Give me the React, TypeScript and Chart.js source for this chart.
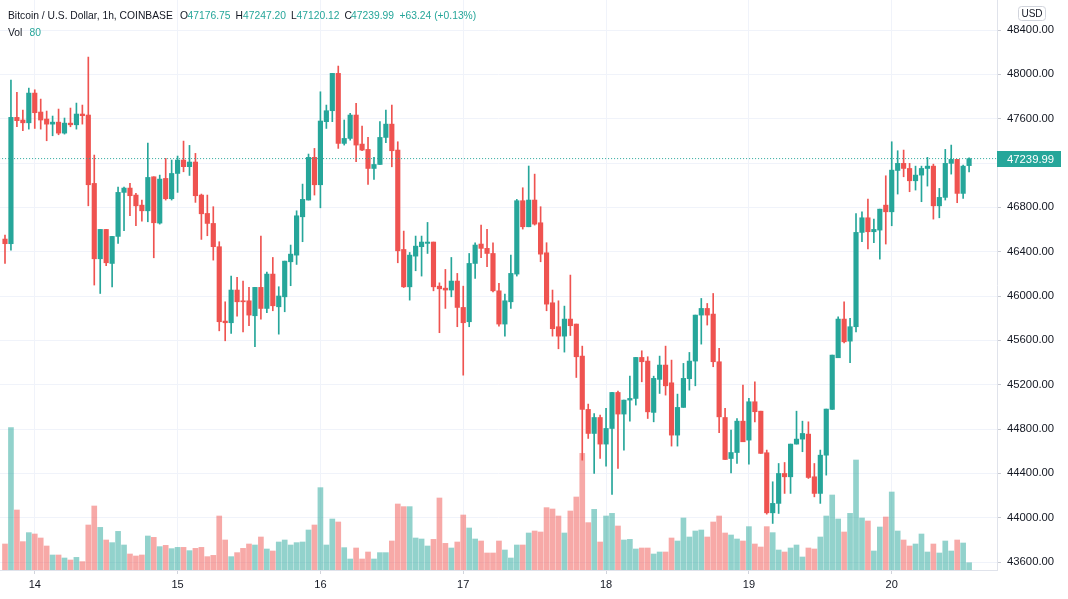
import React, { useEffect, useRef } from 'react';
import { Chart, registerables } from 'chart.js';

Chart.register(...registerables);

// ---- Data (1h candles, BTC/USD Coinbase) ----
const opens = [46514,46472,47612,47588,47563,47831,47660,47597,47551,47569,47470,47560,47545,47642,47633,47016,46336,46601,46294,46538,46935,46974,46911,46820,46769,47076,46658,
47061,46878,47106,47227,47167,47209,46911,46745,46655,46445,45774,45759,46054,45957,45957,45822,46078,45888,46198,45903,45993,46309,46369,46715,46866,47251,47004,
47573,47672,48009,47377,47422,47633,47371,47323,47151,47187,47431,47551,47317,46420,46083,46360,46445,46475,46487,46089,46071,46054,46135,45897,45768,46294,46469,
46430,46384,46047,45747,45948,46198,46860,46625,46866,46661,46390,45939,45723,45638,45792,45747,45458,44977,44760,44904,44664,44805,45130,44935,45061,45076,45446,
45413,44950,45248,45377,45217,44745,44995,45254,45413,45828,45888,45837,45407,44904,44534,44588,44871,44700,45046,44961,44586,44044,44129,44399,44369,44664,44709,
44754,44369,44219,44564,44977,45443,45792,45593,45723,46574,46706,46580,46595,46820,46760,47133,47197,47151,47040,47091,47151,47172,46814,46890,47197,47233,46926,47176.75];
const highs = [46550,47948,47837,47678,47876,47861,47777,47669,47624,47687,47606,47696,47741,47723,48156,47272,46601,46601,46538,46983,46983,47016,46926,46866,47380,47076,47091,
47242,47227,47263,47398,47359,47287,46920,46911,46806,46490,45948,46180,46168,46135,46078,46078,46541,46216,46348,46084,46315,46460,46769,47010,47281,47332,47843,
47723,48009,48075,47588,47648,47738,47533,47431,47251,47573,47678,47723,47392,46586,46393,46541,46541,46664,46487,46119,46240,46348,46204,46089,46384,46481,46640,
46601,46481,46114,46017,46369,46872,46977,47173,47100,46806,46481,46054,45957,45909,46189,45747,45548,45025,44940,44926,44986,45130,45142,45061,45277,45446,45506,
45452,45277,45458,45548,45422,45115,45392,45491,45828,45978,45933,46023,45527,44986,44790,44895,45196,45076,45226,44961,44610,44324,44489,44498,44664,44961,44871,
44865,44489,44610,44980,45467,45813,45948,45798,46745,46760,46875,46694,46784,47085,47392,47311,47317,47197,47172,47172,47251,47190,46971,47323,47362,47233,47181,47247.20];
const lows = [46294,46414,47527,47491,47506,47512,47506,47401,47446,47455,47461,47527,47506,47551,46814,46099,46023,46273,46083,46475,46589,46724,46634,46676,46670,46345,46649,
46866,46866,46935,47121,47088,46845,46511,46544,46324,45686,45596,45662,45819,45677,45732,45542,45792,45849,45867,45656,45858,46093,46285,46490,46866,46911,46796,
47512,47573,47332,47362,47407,47212,47311,47007,47052,47187,47383,47166,46300,46077,45963,46228,46180,46384,46047,45669,45888,45993,45723,45286,45723,46159,46345,
46264,46038,45729,45638,45888,46180,46604,46625,46640,46309,45867,45638,45524,45494,45644,45265,44519,44715,44399,44534,44465,44209,44444,44610,44871,45016,45226,
44895,44865,45121,45106,44646,44646,44995,45151,45190,45566,45738,45362,44766,44525,44405,44489,44685,44483,44865,44580,44032,43948,44038,44219,44219,44664,44595,
44354,44188,44129,44384,44977,45443,45578,45398,45677,46490,46424,46481,46333,46469,46634,46920,47076,46941,46956,46851,46992,46694,46706,46866,47100,46842,46881,47120.12];
const closes = [46472,47612,47582,47563,47831,47654,47588,47551,47569,47470,47560,47545,47642,47627,47004,46336,46601,46300,46538,46935,46974,46905,46814,46769,47070,46661,47055,
46878,47106,47227,47167,47209,46905,46742,46655,46445,45768,45759,46054,45948,45948,45828,46078,45888,46198,45912,46000,46315,46378,46724,46872,47251,47004,47579,
47672,48009,47377,47422,47633,47362,47317,47151,47187,47431,47551,47311,46408,46083,46369,46450,46487,46487,46083,46065,46054,46135,45897,45759,46294,46460,46430,
46384,46047,45747,45957,46204,46860,46625,46866,46649,46378,45927,45705,45638,45792,45732,45452,44977,44760,44904,44664,44805,45130,44935,45061,45076,45446,45407,
44955,45257,45377,45190,44745,44995,45257,45413,45828,45888,45828,45407,44910,44525,44588,44871,44685,45046,44956,44580,44044,44129,44399,44369,44664,44709,44760,
44363,44219,44564,44980,45467,45792,45587,45723,46574,46706,46580,46601,46784,46760,47136,47197,47151,47040,47091,47151,47172,46814,46890,47197,47233,46926,47172,47239.99];
const volumes = [286,1566,660,312,411,396,352,264,165,165,132,110,139,92,495,704,469,330,301,425,275,176,154,165,374,359,257,
271,235,249,249,213,238,249,147,161,594,330,147,191,238,286,275,363,231,209,308,330,275,301,308,440,495,906,
275,561,528,246,121,242,121,198,121,191,191,319,726,697,697,352,341,264,337,792,293,242,308,605,462,341,319,
187,187,319,220,132,275,275,407,429,418,686,671,594,407,649,803,1283,521,667,308,594,623,484,330,337,231,242,
242,176,198,198,352,319,572,363,429,440,363,528,594,407,385,341,319,477,286,253,477,411,220,198,242,275,143,
242,231,363,594,825,561,418,623,1210,572,539,209,473,583,858,429,330,264,286,396,198,286,187,319,209,330,297,80];

const dayLabels = ['14', '15', '16', '17', '18', '19', '20'];
const dayStartIndex = [5, 29, 53, 77, 101, 125, 149];
const priceTicks = [43600, 44000, 44400, 44800, 45200, 45600, 46000, 46400, 46800, 47200, 47600, 48000, 48400];
const lastPrice = 47239.99;

const UP = '#26a69a';
const DOWN = '#ef5350';
const UP_VOL = 'rgba(38,166,154,0.5)';
const DOWN_VOL = 'rgba(239,83,80,0.5)';
const FONT = '"Liberation Sans", Arial, sans-serif';

const overlayPlugin = {
  id: 'overlay',
  afterDraw(chart: any) {
    const ctx = chart.ctx;
    const area = chart.chartArea;
    const y = chart.scales.y.getPixelForValue(lastPrice);
    ctx.save();
    ctx.fillStyle = UP;
    ctx.fillRect(area.right, Math.round(y) - 8, 64, 16);
    ctx.fillStyle = '#ffffff';
    ctx.font = '11.3px ' + FONT;
    ctx.textBaseline = 'middle';
    ctx.textAlign = 'left';
    ctx.fillText(lastPrice.toFixed(2), area.right + 10, Math.round(y) + 0.5);
    // USD box
    const bx = 1018.5, by = 6.5, bw = 27, bh = 14, r = 3;
    ctx.beginPath();
    ctx.moveTo(bx + r, by);
    ctx.lineTo(bx + bw - r, by);
    ctx.arcTo(bx + bw, by, bx + bw, by + r, r);
    ctx.lineTo(bx + bw, by + bh - r);
    ctx.arcTo(bx + bw, by + bh, bx + bw - r, by + bh, r);
    ctx.lineTo(bx + r, by + bh);
    ctx.arcTo(bx, by + bh, bx, by + bh - r, r);
    ctx.lineTo(bx, by + r);
    ctx.arcTo(bx, by, bx + r, by, r);
    ctx.closePath();
    ctx.fillStyle = '#ffffff';
    ctx.fill();
    ctx.strokeStyle = '#d1d4dc';
    ctx.lineWidth = 1;
    ctx.stroke();
    ctx.fillStyle = '#131722';
    ctx.font = '10px ' + FONT;
    ctx.textAlign = 'center';
    ctx.fillText('USD', bx + bw / 2, by + bh / 2 + 0.5);
    ctx.restore();
  },
};

export default function App() {
  const canvasRef = useRef<HTMLCanvasElement | null>(null);

  useEffect(() => {
    if (!canvasRef.current) return;
    const idx = opens.map((_, i) => i);
    const up = idx.map((i) => closes[i] >= opens[i]);
    const chart = new Chart(canvasRef.current, {
      type: 'bar',
      data: {
        datasets: [
          {
            type: 'line',
            data: [{ x: -2, y: lastPrice }, { x: 170, y: lastPrice }],
            borderColor: UP,
            borderWidth: 1,
            borderDash: [1, 2],
            pointRadius: 0,
            yAxisID: 'y',
            order: 0,
          } as any,
          {
            data: idx.map((i) => ({ x: i, y: [opens[i], closes[i]] })),
            backgroundColor: idx.map((i) => (up[i] ? UP : DOWN)),
            barThickness: 4.5,
            minBarLength: 1,
            grouped: false,
            yAxisID: 'y',
            order: 1,
          } as any,
          {
            data: idx.map((i) => ({ x: i, y: [lows[i], highs[i]] })),
            backgroundColor: idx.map((i) => (up[i] ? UP : DOWN)),
            barThickness: 1,
            grouped: false,
            yAxisID: 'y',
            order: 2,
          } as any,
          {
            data: idx.map((i) => ({ x: i, y: volumes[i] })),
            backgroundColor: idx.map((i) => (up[i] ? UP_VOL : DOWN_VOL)),
            barThickness: 5,
            grouped: false,
            yAxisID: 'yv',
            order: 3,
          } as any,
        ],
      },
      options: {
        responsive: false,
        animation: false,
        layout: { padding: 0 },
        plugins: { legend: { display: false }, tooltip: { enabled: false } },
        scales: {
          x: {
            type: 'linear',
            min: -0.84,
            max: 166.69,
            offset: false,
            grid: { color: '#f0f3fa', offset: false, tickLength: 4, tickColor: '#d1d4dc' },
            border: { color: '#e0e3eb' },
            ticks: {
              autoSkip: false,
              maxRotation: 0,
              padding: 4,
              color: '#131722',
              font: { family: FONT, size: 11 },
              callback: (v: any) => {
                const k = dayStartIndex.indexOf(Number(v));
                return k >= 0 ? dayLabels[k] : '';
              },
            },
            afterBuildTicks: (s: any) => {
              s.ticks = dayStartIndex.map((v) => ({ value: v }));
            },
            afterFit: (s: any) => {
              s.height = 29;
              s.paddingLeft = 0;
              s.paddingRight = 0;
            },
          } as any,
          y: {
            type: 'linear',
            position: 'right',
            min: 43528,
            max: 48671,
            grid: { color: '#f0f3fa', tickLength: 4, tickColor: '#c8cbd3' },
            border: { color: '#e0e3eb' },
            ticks: {
              padding: 6,
              color: '#131722',
              font: { family: FONT, size: 11.3 },
              callback: (v: any) => Number(v).toFixed(2),
            },
            afterBuildTicks: (s: any) => {
              s.ticks = priceTicks.map((v) => ({ value: v }));
            },
            afterFit: (s: any) => {
              s.width = 71;
              s.paddingTop = 0;
              s.paddingBottom = 0;
            },
          } as any,
          yv: {
            type: 'linear',
            display: false,
            min: 0,
            max: 6270,
            grid: { display: false },
          } as any,
        },
      },
      plugins: [overlayPlugin],
    });
    return () => chart.destroy();
  }, []);

  const lbl: React.CSSProperties = { position: 'absolute', top: 10, color: '#131722', whiteSpace: 'nowrap', lineHeight: '12px' };
  const val: React.CSSProperties = { ...lbl, color: UP };
  const f: React.CSSProperties = { fontFamily: FONT, fontSize: '10.3px' };

  return (
    <div style={{ position: 'fixed', left: 0, top: 0, width: 1068, height: 599, background: '#ffffff', overflow: 'hidden', ...f }}>
      <canvas ref={canvasRef} width={1068} height={599} style={{ display: 'block' }} />
      <span style={{ ...lbl, left: 8 }}>Bitcoin / U.S. Dollar, 1h, COINBASE</span>
      <span style={{ ...lbl, left: 180 }}>O</span>
      <span style={{ ...val, left: 187.5 }}>47176.75</span>
      <span style={{ ...lbl, left: 235.5 }}>H</span>
      <span style={{ ...val, left: 243 }}>47247.20</span>
      <span style={{ ...lbl, left: 291 }}>L</span>
      <span style={{ ...val, left: 296.5 }}>47120.12</span>
      <span style={{ ...lbl, left: 344.5 }}>C</span>
      <span style={{ ...val, left: 351 }}>47239.99</span>
      <span style={{ ...val, left: 399.5 }}>+63.24 (+0.13%)</span>
      <span style={{ ...lbl, left: 8, top: 27 }}>Vol</span>
      <span style={{ ...val, left: 29.5, top: 27 }}>80</span>
    </div>
  );
}
